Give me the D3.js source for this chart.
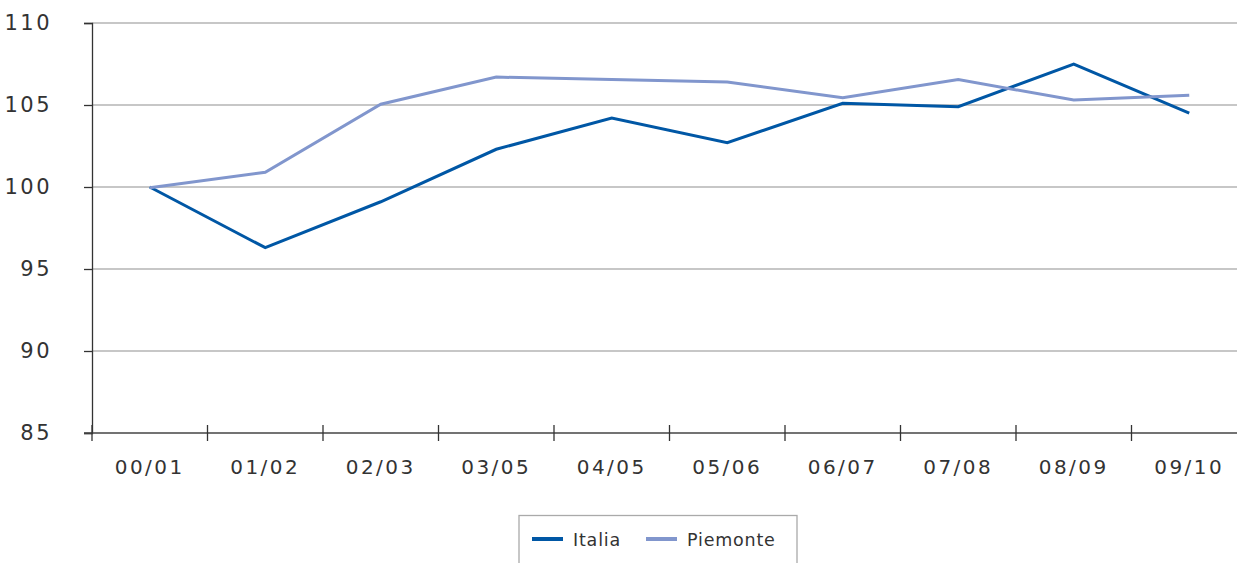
<!DOCTYPE html>
<html><head><meta charset="utf-8">
<script src="https://cdn.jsdelivr.net/npm/d3@7"></script>
<style>body{margin:0;background:#fff}svg{display:block}text{font-family:"DejaVu Sans",sans-serif;fill:#333}</style>
</head><body>
<svg id="c" width="1237" height="563"></svg>
<script>
const categories = ["00/01","01/02","02/03","03/05","04/05","05/06","06/07","07/08","08/09","09/10"];
const italia   = [100.0, 96.3, 99.1, 102.3, 104.2, 102.7, 105.1, 104.9, 107.5, 104.5];
const piemonte = [99.95, 100.9, 105.05, 106.7, 106.55, 106.4, 105.45, 106.55, 105.3, 105.6];
const yTicks = [85, 90, 95, 100, 105, 110];
const seriesNames = ["Italia", "Piemonte"];
const colors = ["#0057a5", "#8196cd"];

(function () {
const svg = d3.select("#c");
const mL = 92, mR = 1247, mT = 23, mB = 433;
const x = d3.scaleBand().domain(categories).range([mL, mR]);
const y = d3.scaleLinear().domain([85, 110]).range([mB, mT]);

// gridlines
svg.append("g").selectAll("line").data(yTicks.filter(d => d > 85)).join("line")
  .attr("x1", mL).attr("x2", 1237).attr("y1", d => y(d)).attr("y2", d => y(d))
  .attr("stroke", "#b5b5b5").attr("stroke-width", 1.3);

// y axis
const ya = svg.append("g").attr("transform", `translate(${mL},0)`)
  .call(d3.axisLeft(y).tickValues(yTicks).tickSize(8).tickPadding(32).tickFormat(d3.format("d")));
ya.select(".domain").attr("stroke", "#333").attr("stroke-width", 1.3);
ya.selectAll(".tick line").attr("stroke", "#333").attr("stroke-width", 1.3);
ya.selectAll("text").attr("font-size", 21).attr("fill", "#333").attr("font-family", "DejaVu Sans").attr("dy", "0.3em").attr("letter-spacing", 2.5);

// x axis line
svg.append("line").attr("x1", mL - 8).attr("x2", 1237).attr("y1", mB).attr("y2", mB)
  .attr("stroke", "#444").attr("stroke-width", 1.5);
// x ticks at band boundaries
svg.append("g").selectAll("line").data(categories).join("line")
  .attr("x1", d => x(d)).attr("x2", d => x(d)).attr("y1", mB - 8).attr("y2", mB + 8)
  .attr("stroke", "#333").attr("stroke-width", 1.3);
svg.append("g").selectAll("text").data(categories).join("text")
  .attr("x", d => x(d) + x.bandwidth() / 2).attr("y", 474)
  .attr("text-anchor", "middle").attr("font-size", 20).attr("letter-spacing", 2.5).text(d => d);

// lines
const line = d3.line().x((d, i) => x(categories[i]) + x.bandwidth() / 2).y(d => y(d));
[italia, piemonte].forEach((s, k) => {
  svg.append("path").datum(s).attr("d", line).attr("fill", "none")
    .attr("stroke", colors[k]).attr("stroke-width", 3).attr("stroke-linejoin", "miter");
});

// legend
const lg = svg.append("g");
lg.append("rect").attr("x", 519).attr("y", 515.5).attr("width", 278).attr("height", 60)
  .attr("fill", "#fff").attr("stroke", "#aaa").attr("stroke-width", 1.3);
const lx = [532, 646];
seriesNames.forEach((n, k) => {
  lg.append("line").attr("x1", lx[k]).attr("x2", lx[k] + 31).attr("y1", 539).attr("y2", 539)
    .attr("stroke", colors[k]).attr("stroke-width", 4);
  lg.append("text").attr("x", lx[k] + 41).attr("y", 546).attr("font-size", 17.5).attr("letter-spacing", 0.8).text(n);
});
})();
</script>
</body></html>
